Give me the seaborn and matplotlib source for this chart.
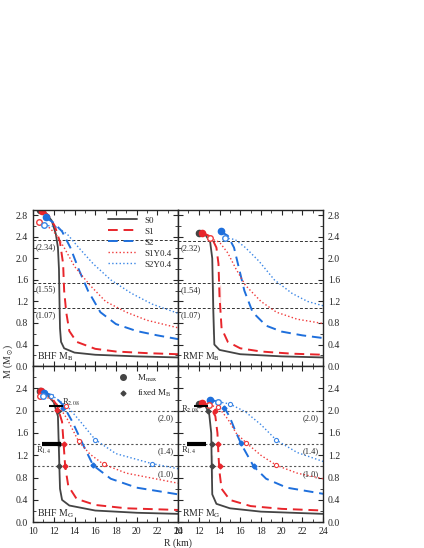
import numpy as np
import pandas as pd
import matplotlib
matplotlib.use("Agg")
import matplotlib.pyplot as plt
import seaborn as sns
from matplotlib.lines import Line2D

sns.set_style("ticks")
plt.rcParams['font.family'] = ['Liberation Serif', 'DejaVu Serif']
plt.rcParams['mathtext.fontset'] = 'stix'
plt.rcParams['font.size'] = 7

series = ['S0', 'S1', 'S2', 'S1Y0.4', 'S2Y0.4']

# BHF, baryon mass
bhf_mb = {
    'S0': ([10.7, 11.2, 11.8, 12.2, 12.4, 12.5, 12.55, 12.6, 12.7, 13.0, 14, 16, 20, 24],
           [2.9, 2.85, 2.7, 2.45, 2.2, 1.8, 1.2, 0.7, 0.45, 0.33, 0.25, 0.21, 0.18, 0.16]),
    'S1': ([10.9, 11.5, 12.1, 12.6, 12.9, 13.0, 13.2, 13.5, 14.2, 16, 18, 21, 24],
           [2.88, 2.8, 2.6, 2.3, 1.9, 1.4, 1.0, 0.65, 0.45, 0.32, 0.27, 0.24, 0.22]),
    'S2': ([11.2, 12, 12.8, 13.6, 14.4, 15.3, 16.5, 18, 20, 22, 24],
           [2.76, 2.66, 2.5, 2.2, 1.8, 1.4, 1.0, 0.78, 0.65, 0.57, 0.5]),
    'S1Y0.4': ([10.6, 11.5, 12.2, 13, 14, 15.5, 17, 19, 21, 24],
               [2.68, 2.58, 2.45, 2.2, 1.85, 1.5, 1.2, 1.0, 0.85, 0.71]),
    'S2Y0.4': ([11.1, 12.3, 13.3, 14.4, 15.8, 17.5, 19.5, 21.5, 24],
               [2.62, 2.58, 2.45, 2.2, 1.9, 1.6, 1.35, 1.15, 0.98]),
}
# RMF, baryon mass
rmf_mb = {
    'S0': ([12.0, 12.6, 13.1, 13.3, 13.4, 13.4, 13.4, 13.5, 14, 16, 20, 24],
           [2.48, 2.45, 2.3, 2.0, 1.5, 1.0, 0.6, 0.4, 0.3, 0.22, 0.18, 0.16]),
    'S1': ([12.3, 13.2, 13.7, 13.9, 14.0, 14.0, 14.2, 14.8, 16, 18, 21, 24],
           [2.48, 2.4, 2.2, 1.9, 1.5, 1.1, 0.7, 0.45, 0.33, 0.27, 0.23, 0.21]),
    'S2': ([14.1, 14.8, 15.4, 15.9, 16.4, 17.2, 18.5, 20, 22, 24],
           [2.5, 2.42, 2.2, 1.8, 1.4, 1.0, 0.75, 0.64, 0.57, 0.52]),
    'S1Y0.4': ([13.1, 14, 14.8, 15.6, 16.5, 18, 19.5, 21.5, 24],
               [2.37, 2.3, 2.1, 1.8, 1.5, 1.2, 1.0, 0.87, 0.79]),
    'S2Y0.4': ([14.5, 15.5, 16.5, 17.8, 19.3, 21, 22.5, 24],
               [2.38, 2.35, 2.2, 1.95, 1.6, 1.35, 1.2, 1.12]),
}
# BHF, gravitational mass
bhf_mg = {
    'S0': ([10.7, 11.3, 12.0, 12.4, 12.5, 12.5, 12.6, 12.8, 13.5, 16, 20, 24],
           [2.35, 2.3, 2.15, 1.9, 1.5, 1.0, 0.6, 0.4, 0.3, 0.21, 0.17, 0.15]),
    'S1': ([10.8, 11.6, 12.3, 12.8, 12.95, 13.1, 13.4, 14.2, 16, 19, 24],
           [2.36, 2.28, 2.1, 1.8, 1.4, 1.0, 0.65, 0.42, 0.31, 0.25, 0.22]),
    'S2': ([11.1, 12, 12.9, 13.8, 14.8, 15.8, 17.5, 20, 24],
           [2.32, 2.27, 2.1, 1.8, 1.4, 1.02, 0.78, 0.62, 0.5]),
    'S1Y0.4': ([10.7, 11.6, 12.4, 13.3, 14.4, 15.5, 16.8, 19, 24],
               [2.27, 2.22, 2.1, 1.85, 1.45, 1.22, 1.04, 0.88, 0.7]),
    'S2Y0.4': ([11.0, 12, 13.3, 14.5, 16, 18, 21.5, 24],
               [2.27, 2.25, 2.08, 1.82, 1.48, 1.23, 1.05, 0.96]),
}
# RMF, gravitational mass
rmf_mg = {
    'S0': ([12.0, 12.6, 13.0, 13.2, 13.25, 13.25, 13.3, 13.7, 15, 18, 24],
           [2.12, 2.1, 1.95, 1.6, 1.2, 0.8, 0.5, 0.33, 0.25, 0.19, 0.15]),
    'S1': ([12.3, 13.0, 13.6, 13.8, 13.9, 14.0, 14.2, 15, 17, 20, 24],
           [2.14, 2.1, 1.9, 1.6, 1.2, 0.9, 0.6, 0.4, 0.29, 0.24, 0.21]),
    'S2': ([13.1, 14.0, 14.5, 15.0, 15.5, 16.1, 16.7, 17.3, 18.5, 20.5, 24],
           [2.2, 2.15, 2.05, 1.88, 1.65, 1.4, 1.2, 1.0, 0.78, 0.62, 0.51]),
    'S1Y0.4': ([13.0, 13.9, 14.8, 15.6, 16.6, 18, 19.5, 21.5, 24],
               [2.1, 2.06, 1.85, 1.6, 1.42, 1.2, 1.02, 0.88, 0.78]),
    'S2Y0.4': ([13.9, 15, 16.5, 18, 19.5, 21.5, 24],
               [2.16, 2.12, 1.98, 1.75, 1.47, 1.25, 1.09]),
}

mb_levels_bhf = [2.34, 1.55, 1.07]
mb_levels_rmf = [2.32, 1.54, 1.07]
mg_levels = [2.0, 1.4, 1.0]

# fixed-M_B diamonds (R, M) and open circles on hyperon curves
bhf_diamonds = {'S0': ([12.4, 12.5, 12.5], [2.0, 1.4, 1.0]),
                'S1': ([12.3, 12.95, 13.1], [2.02, 1.4, 1.0]),
                'S2': ([12.9, 15.8], [2.05, 1.02])}
bhf_open = {'S1Y0.4': ([13.2, 14.4, 16.8], [2.08, 1.45, 1.04]),
            'S2Y0.4': ([11.7, 16.0, 21.5], [2.26, 1.48, 1.05])}
rmf_diamonds = {'S0': ([12.9, 13.25, 13.25], [2.0, 1.4, 1.0]),
                'S1': ([13.6, 13.9, 14.0], [2.0, 1.4, 1.0]),
                'S2': ([14.4, 16.1, 17.3], [2.05, 1.42, 1.0])}
rmf_open = {'S1Y0.4': ([13.9, 16.6, 19.5], [2.06, 1.42, 1.02]),
            'S2Y0.4': ([15.0, 19.5], [2.12, 1.47])}

colors = {'S0': '#444444', 'S1': '#e8252b', 'S2': '#1e6fdc',
          'S1Y0.4': '#f03a3a', 'S2Y0.4': '#3a86e6'}
styles = {'S0': '-', 'S1': (0, (5, 3)), 'S2': (0, (5, 3)),
          'S1Y0.4': ':', 'S2Y0.4': ':'}
widths = {'S0': 1.3, 'S1': 1.4, 'S2': 1.4, 'S1Y0.4': 1.0, 'S2Y0.4': 1.0}

fig = plt.figure(figsize=(4.24, 5.48), dpi=100)
W, H = 0.342, 0.285
axes = {
    'bhf_mb': fig.add_axes([0.078, 0.332, W, H]),
    'rmf_mb': fig.add_axes([0.42, 0.332, W, H]),
    'bhf_mg': fig.add_axes([0.078, 0.047, W, H]),
    'rmf_mg': fig.add_axes([0.42, 0.047, W, H]),
}


def draw_curves(ax, curves):
    for s in series:
        r, m = curves[s]
        df = pd.DataFrame({'R': r, 'M': m})
        sns.lineplot(data=df, x='R', y='M', sort=False, ax=ax, color=colors[s],
                     linestyle=styles[s], linewidth=widths[s], label=None)
        if s in ('S1Y0.4', 'S2Y0.4'):
            ax.plot(r[0], m[0], 'o', ms=4, mfc='white', mec=colors[s], mew=1)
        else:
            ax.plot(r[0], m[0], 'o', ms=4.5, color=colors[s])


def style_axis(ax, top, right):
    ax.set_xlim(10, 24)
    ax.set_ylim(0, 2.9 if top else 2.58)
    ax.set_xticks(np.arange(10, 25, 2))
    ax.set_xticks(np.arange(10, 24.1, 1), minor=True)
    ax.set_yticks(np.arange(0, 2.9 if top else 2.5, 0.4))
    ax.set_yticks(np.arange(0, 2.9, 0.2), minor=True)
    ax.tick_params(which='both', direction='in', top=True, right=True, labelsize=7)
    ax.tick_params(which='major', length=3.5)
    ax.tick_params(which='minor', length=2)
    if right:
        ax.tick_params(labelleft=False, labelright=True)
    if top:
        ax.tick_params(labelbottom=False)
    ax.set_xlabel('')
    ax.set_ylabel('')
    for sp in ax.spines.values():
        sp.set_linewidth(1.0)


for key, curves, levels in [('bhf_mb', bhf_mb, mb_levels_bhf), ('rmf_mb', rmf_mb, mb_levels_rmf)]:
    ax = axes[key]
    for lv in levels:
        ax.axhline(lv, color='#333333', ls=(0, (3, 2)), lw=0.7)
        ax.text(10.2, lv - 0.05, f'({lv:.2f})', va='top', fontsize=6)
    draw_curves(ax, curves)

for key, curves, dia, opn in [('bhf_mg', bhf_mg, bhf_diamonds, bhf_open),
                              ('rmf_mg', rmf_mg, rmf_diamonds, rmf_open)]:
    ax = axes[key]
    for lv in mg_levels:
        ax.axhline(lv, color='#555555', ls=(0, (2, 2)), lw=0.8)
        ax.text(23.6, lv - 0.06, f'({lv:.1f})', va='top', ha='right', fontsize=6)
    draw_curves(ax, curves)
    for s, (r, m) in dia.items():
        ax.plot(r, m, 'D', ms=2.5, color=colors[s])
    for s, (r, m) in opn.items():
        ax.plot(r, m, 'o', ms=3, mfc='white', mec=colors[s], mew=0.8)
    # radius constraint bars
    ax.errorbar([12.2], [2.08], xerr=[[0.7], [0.7]], fmt='none', ecolor='black', elinewidth=1.5, capsize=0)
    ax.errorbar([11.9], [1.4], xerr=[[1.0], [0.8]], fmt='none', ecolor='black', elinewidth=3, capsize=0)
    ax.text(12.8 if key == 'bhf_mg' else 10.3, 2.1 if key == 'bhf_mg' else 1.98,
            r'R$_{2.08}$', fontsize=6)
    ax.text(10.3, 1.24, r'R$_{1.4}$', fontsize=6)

axes['bhf_mb'].text(10.4, 0.12, r'BHF M$_{\rm B}$', fontsize=7)
axes['rmf_mb'].text(10.4, 0.12, r'RMF M$_{\rm B}$', fontsize=7)
axes['bhf_mg'].text(10.4, 0.1, r'BHF M$_{\rm G}$', fontsize=7)
axes['rmf_mg'].text(10.4, 0.1, r'RMF M$_{\rm G}$', fontsize=7)

style_axis(axes['bhf_mb'], True, False)
style_axis(axes['rmf_mb'], True, True)
style_axis(axes['bhf_mg'], False, False)
style_axis(axes['rmf_mg'], False, True)

handles = [Line2D([], [], color=colors[s], ls=styles[s], lw=widths[s]) for s in series]
axes['bhf_mb'].legend(handles, series, loc='upper right', frameon=False, fontsize=6.5,
                      handlelength=3.2, labelspacing=0.3, borderaxespad=0.3)
h2 = [Line2D([], [], marker='o', ls='none', color='#444444', ms=4),
      Line2D([], [], marker='D', ls='none', color='#444444', ms=2.5)]
axes['bhf_mg'].legend(h2, [r'M$_{\rm max}$', r'fixed M$_{\rm B}$'], loc='upper right',
                      frameon=False, fontsize=6.5, handlelength=1.5, borderaxespad=0.3)

fig.text(0.004, 0.34, r'M (M$_\odot$)', rotation=90, va='center', fontsize=7)
fig.text(0.42, 0.005, 'R (km)', ha='center', fontsize=7)

fig.savefig('out.png', dpi=100)
